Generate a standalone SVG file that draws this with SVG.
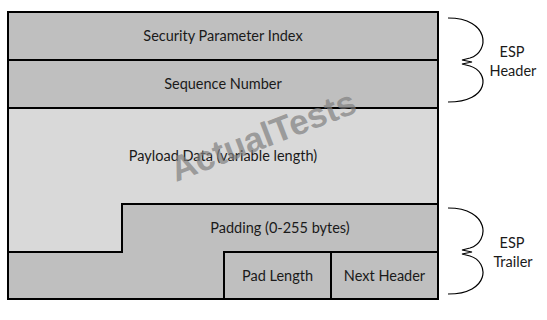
<svg xmlns="http://www.w3.org/2000/svg" width="547" height="320" viewBox="0 0 547 320">
  <style>
    .field { stroke: #000; stroke-width: 2; }
    .dark { fill: #bfbfbf; }
    .light { fill: #d9d9d9; }
    .label { font-family: Lato, "Open Sans", sans-serif; font-size: 14.5px; fill: #1a1a1a; text-anchor: middle; }
    .side { font-family: Lato, "Open Sans", sans-serif; font-size: 14.5px; fill: #1a1a1a; text-anchor: middle; }
    .brace { fill: none; stroke: #000; stroke-width: 1.2; }
    .mark { font-family: "Liberation Sans", Arial, sans-serif; font-weight: bold; font-size: 35px; fill: #7f7f7f; fill-opacity: 0.7; }
  </style>
  <rect width="547" height="320" fill="#fff"/>

  <g id="spi">
    <rect class="field dark" x="8" y="12" width="430" height="48"/>
    <text class="label" x="223" y="41">Security Parameter Index</text>
  </g>
  <g id="sequence">
    <rect class="field dark" x="8" y="60" width="430" height="48"/>
    <text class="label" x="223" y="89">Sequence Number</text>
  </g>
  <g id="payload">
    <path class="field light" d="M8 108 H438 V204 H122 V252 H8 Z"/>
    <text class="label" x="223" y="161">Payload Data (variable length)</text>
  </g>
  <g id="padding">
    <path class="field dark" d="M122 204 H438 V299 H8 V252 H122 Z"/>
    <text class="label" x="280" y="233">Padding (0-255 bytes)</text>
  </g>
  <g id="pad-length">
    <rect class="field dark" x="224" y="252" width="107" height="47"/>
    <text class="label" x="277.5" y="281">Pad Length</text>
  </g>
  <g id="next-header">
    <rect class="field dark" x="331" y="252" width="107" height="47"/>
    <text class="label" x="384.5" y="281">Next Header</text>
  </g>

  <g id="connectors">
    <path class="brace" d="M448 18 C490 18 490 52 470 58 L462 60 L472 62 L462 64 L470 66 C490 72 490 102 448 102"/>
    <path class="brace" d="M448 208 C490 208 490 242 470 248 L462 250 L472 252 L462 254 L470 256 C490 262 490 294 448 294"/>
  </g>

  <g id="esp-header">
    <text class="side" x="512" y="57">ESP</text>
    <text class="side" x="513" y="76">Header</text>
  </g>
  <g id="esp-trailer">
    <text class="side" x="512" y="248">ESP</text>
    <text class="side" x="513" y="267">Trailer</text>
  </g>

  <text class="mark" transform="translate(176 182) rotate(-21)">ActualTests</text>
</svg>
